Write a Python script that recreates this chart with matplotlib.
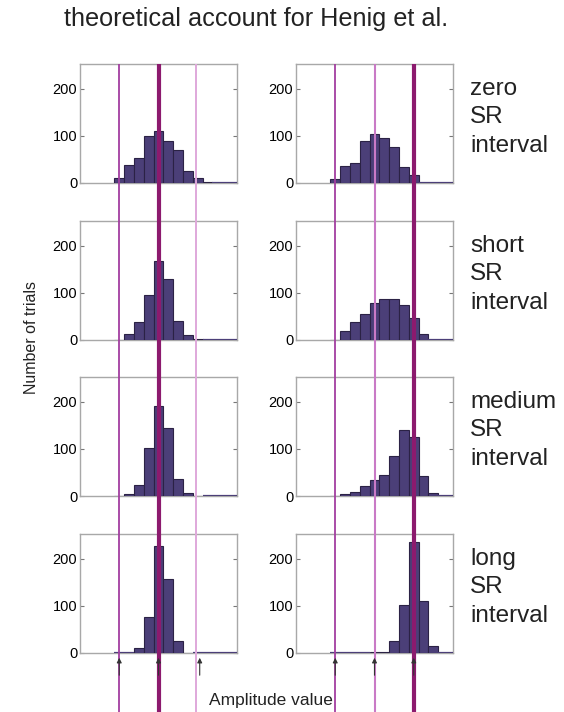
import numpy as np
import matplotlib
matplotlib.use("Agg")
import matplotlib.pyplot as plt

plt.rcParams['font.family'] = ['Liberation Sans', 'DejaVu Sans']

# histogram bins (amplitude value) and counts per SR interval
bins = np.arange(4, 17)
conditions = ["zero\nSR\ninterval", "short\nSR\ninterval",
              "medium\nSR\ninterval", "long\nSR\ninterval"]
left_counts = [
    [10, 38, 52, 100, 110, 90, 69, 25, 10, 3, 0, 0, 0],
    [1, 12, 38, 96, 168, 130, 41, 10, 2, 0, 0, 0, 0],
    [1, 4, 24, 101, 191, 143, 36, 7, 1, 0, 0, 0, 0],
    [0, 0, 10, 76, 227, 156, 26, 1, 0, 0, 0, 0, 0],
]
right_counts = [
    [9, 36, 43, 90, 103, 95, 76, 33, 17, 0, 0, 0, 0],
    [1, 19, 39, 56, 79, 86, 86, 74, 46, 12, 0, 0, 0],
    [1, 4, 8, 21, 33, 44, 84, 139, 125, 42, 6, 0, 0],
    [0, 0, 0, 0, 2, 2, 26, 101, 236, 110, 15, 0, 0],
]
# criterion lines / arrows for each column
left_lines = [4, 8, 11.8]
left_arrows = [4, 8, 12.2]
right_lines = [4, 8, 12]
right_arrows = [4, 8, 12]
left_styles = [('#a23ea0', 1.3), ('#8c1a6e', 3.0), ('#dfa8da', 1.4)]
right_styles = [('#a23ea0', 1.3), ('#c97ac6', 1.5), ('#8c1a6e', 3.0)]

W, H = 564, 712
fig = plt.figure(figsize=(W / 100, H / 100), dpi=100)

col_x = [80, 296]
col_w = 157
row_top = [64, 221, 377, 534]
row_h = 119

bar_color = '#4b3f78'
edge_color = '#2b2245'
spine_color = '#a8a8a8'

for r in range(4):
    for c, counts in enumerate([left_counts, right_counts]):
        ax = fig.add_axes([col_x[c] / W, 1 - (row_top[r] + row_h) / H, col_w / W, row_h / H])
        vals = np.array(counts[r])
        ax.bar(bins, vals, width=1.0, color=bar_color, edgecolor=edge_color,
               linewidth=0.8, zorder=3)
        # empty bins show as a flat line on the baseline
        empty = bins[vals == 0]
        ax.hlines(np.zeros(len(empty)), empty - 0.5, empty + 0.5, color=bar_color,
                  linewidth=1.6, zorder=4)
        ax.set_xlim(0, 16)
        ax.set_ylim(0, 252)
        ax.set_yticks([0, 100, 200])
        ax.set_xticks([])
        ax.tick_params(axis='y', direction='in', length=3, labelsize=10.5,
                       right=True, color='#777777', pad=2)
        for s in ax.spines.values():
            s.set_color(spine_color)
            s.set_linewidth(1.0)
    fig.text(470 / W, 1 - (row_top[r] + 14) / H, conditions[r], fontsize=17.5,
             va='top', ha='left', linespacing=1.38, color='#222222')

# overlay axes for vertical criterion lines and arrows
for c, (lines, arrows, styles) in enumerate([(left_lines, left_arrows, left_styles),
                                              (right_lines, right_arrows, right_styles)]):
    ov = fig.add_axes([col_x[c] / W, 0, col_w / W, 1 - row_top[0] / H])
    ov.set_xlim(0, 16)
    ov.set_ylim(0, H - row_top[0])
    ov.axis('off')
    for x, (col, lw) in zip(lines, styles):
        ov.axvline(x, color=col, linewidth=lw, zorder=5)
    for x in arrows:
        ov.annotate('', xy=(x, 57), xytext=(x, 34),
                    arrowprops=dict(arrowstyle='-|>', color='#333333', lw=0.8,
                                    mutation_scale=7), zorder=6)

fig.text(256 / W, 1 - 19 / H, "theoretical account for Henig et al.",
         fontsize=18.2, ha='center', va='center', color='#222222')
fig.text(32 / W, 1 - 338 / H, "Number of trials", rotation=90, fontsize=11.5,
         ha='center', va='center', color='#222222')
fig.text(271 / W, 1 - 700 / H, "Amplitude value", fontsize=12.5,
         ha='center', va='center', color='#222222')

fig.savefig('out.png', dpi=100)
